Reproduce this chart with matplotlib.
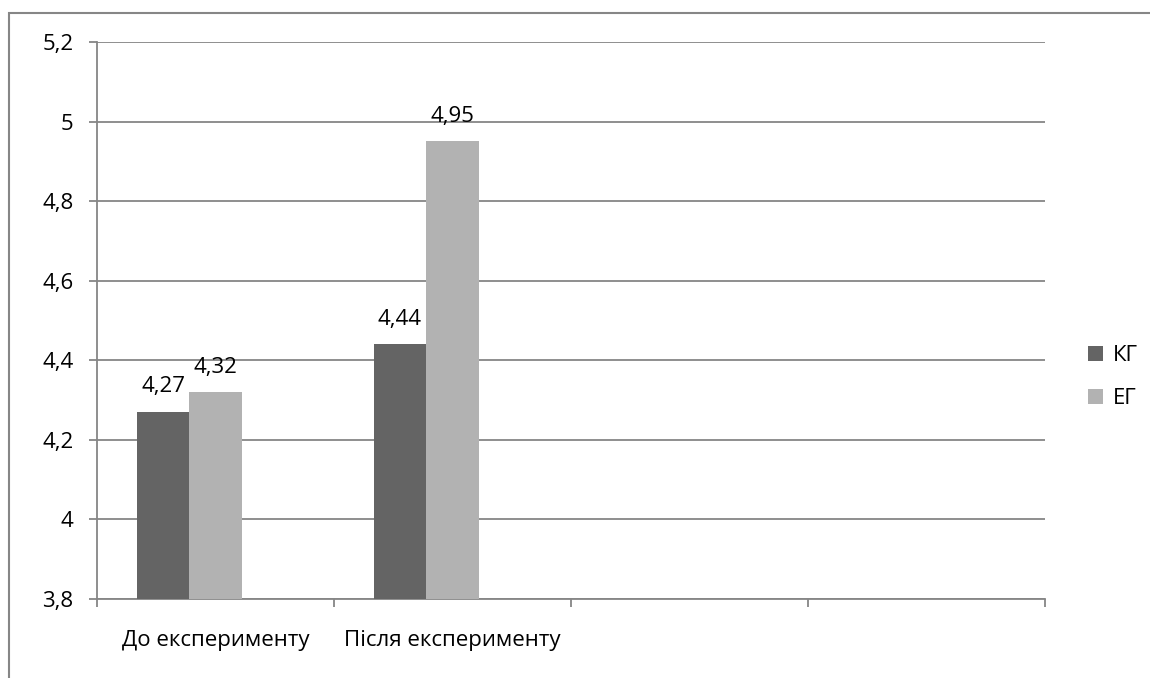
import matplotlib
matplotlib.use("Agg")
import matplotlib.pyplot as plt
import matplotlib.patches as mpatches
import numpy as np

categories = ["До експерименту", "Після експерименту", "", ""]
series_names = ["КГ", "ЕГ"]
kg_values = [4.27, 4.44]
eg_values = [4.32, 4.95]
y_ticks = [3.8, 4.0, 4.2, 4.4, 4.6, 4.8, 5.0, 5.2]
y_tick_labels = ["3,8", "4", "4,2", "4,4", "4,6", "4,8", "5", "5,2"]

dark = "#646464"
light = "#b2b2b2"
grid_col = "#868686"
fs = 16

plt.rcParams["font.family"] = ["Open Sans", "DejaVu Sans"]

W, H = 1150, 678
fig = plt.figure(figsize=(W / 100, H / 100), dpi=100)
fig.patch.set_facecolor("white")

# outer frame (runs off the right and bottom edges)
frame = mpatches.Rectangle((9 / W, -0.1), 1.2, 1 - 13 / H + 0.1,
                           transform=fig.transFigure, fill=False,
                           edgecolor=grid_col, linewidth=1.5, clip_on=False)
fig.patches.append(frame)

ax = fig.add_axes([97 / W, 1 - 599 / H, (1045 - 97) / W, (599 - 42) / H])
ax.set_xlim(0, len(categories))
ax.set_ylim(3.8, 5.2)

# each category has room for three bars; only the first two slots are filled
bw = 52.5 / 237
x = np.arange(len(kg_values)) + 0.5
b1 = ax.bar(x - bw, kg_values, width=bw, color=dark, label=series_names[0], zorder=3)
b2 = ax.bar(x, eg_values, width=bw, color=light, label=series_names[1], zorder=3)

for bars, vals in ((b1, kg_values), (b2, eg_values)):
    for r, v in zip(bars, vals):
        ax.annotate(f"{v:.2f}".replace(".", ","),
                    (r.get_x() + r.get_width() / 2, v),
                    xytext=(0, 10.5), textcoords="offset points",
                    ha="center", va="bottom", fontsize=fs, color="black")

ax.set_yticks(y_ticks)
ax.set_yticklabels(y_tick_labels, fontsize=fs)
ax.yaxis.grid(True, color=grid_col, linewidth=1.3, zorder=0)
ax.set_axisbelow(True)

ax.set_xticks(np.arange(len(categories) + 1))
ax.set_xticklabels([])
ax.set_xticks(np.arange(len(categories)) + 0.5, minor=True)
ax.set_xticklabels(categories, minor=True, fontsize=fs)
ax.tick_params(axis="x", which="minor", length=0, pad=22)
ax.tick_params(axis="x", which="major", length=6, direction="out", color=grid_col, width=1.3)
ax.tick_params(axis="y", length=6, color=grid_col, width=1.3, pad=11)

for s in ("top", "right"):
    ax.spines[s].set_visible(False)
for s in ("left", "bottom"):
    ax.spines[s].set_color(grid_col)
    ax.spines[s].set_linewidth(1.3)

leg = fig.legend(handles=[b1, b2], labels=series_names,
                 loc="upper left", bbox_to_anchor=(1077 / W, 1 - 334 / H),
                 frameon=False, fontsize=fs, handlelength=0.65, handleheight=0.65,
                 handletextpad=0.45, labelspacing=1.0, borderpad=0)

fig.savefig("out.png", dpi=100, facecolor="white")
